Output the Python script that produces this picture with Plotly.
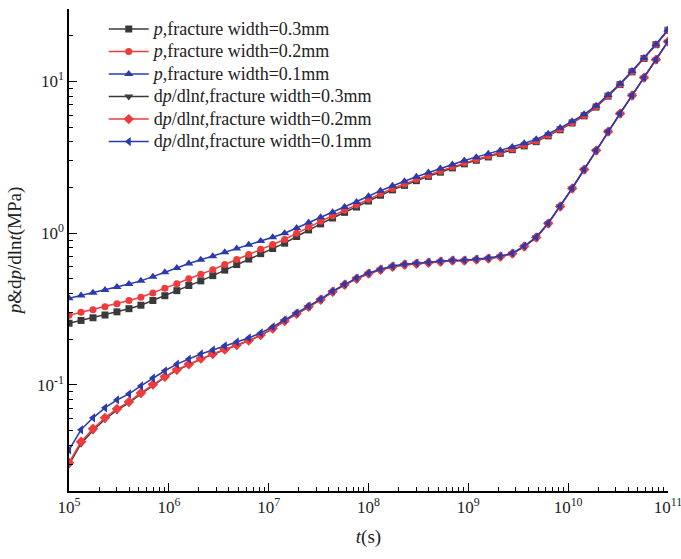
import numpy as np
import plotly.graph_objects as go

# Time grid of the simulation (s), 1e5 .. 1e11 with 51 log-spaced samples
t = np.logspace(5, 11, 51)

# Pressure p (MPa) for the three fracture widths
p_w03 = [0.255, 0.266, 0.277, 0.289, 0.303, 0.318, 0.335, 0.360, 0.387, 0.418,
         0.452, 0.485, 0.525, 0.571, 0.621, 0.675, 0.733, 0.792, 0.859, 0.951,
         1.050, 1.151, 1.259, 1.371, 1.486, 1.629, 1.778, 1.928, 2.065, 2.218,
         2.366, 2.523, 2.692, 2.864, 3.020, 3.177, 3.357, 3.548, 3.758, 4.009,
         4.375, 4.797, 5.321, 5.929, 6.776, 7.998, 9.528, 11.56, 14.16, 17.46,
         21.73]
p_w02 = [0.288, 0.301, 0.313, 0.327, 0.343, 0.360, 0.378, 0.404, 0.433, 0.465,
         0.501, 0.536, 0.575, 0.622, 0.671, 0.724, 0.782, 0.841, 0.908, 0.998,
         1.096, 1.197, 1.303, 1.416, 1.531, 1.675, 1.824, 1.972, 2.109, 2.265,
         2.410, 2.570, 2.735, 2.911, 3.062, 3.221, 3.396, 3.589, 3.802, 4.046,
         4.416, 4.842, 5.358, 5.970, 6.823, 8.035, 9.572, 11.61, 14.19, 17.50,
         21.78]
p_w01 = [0.373, 0.389, 0.405, 0.422, 0.442, 0.462, 0.485, 0.516, 0.552, 0.590,
         0.631, 0.667, 0.705, 0.748, 0.792, 0.839, 0.889, 0.940, 0.998, 1.081,
         1.175, 1.271, 1.374, 1.486, 1.603, 1.750, 1.905, 2.056, 2.198, 2.355,
         2.506, 2.667, 2.838, 3.013, 3.170, 3.334, 3.508, 3.698, 3.908, 4.150,
         4.519, 4.943, 5.458, 6.067, 6.918, 8.128, 9.661, 11.70, 14.29, 17.58,
         21.88]

# Pressure derivative dp/dlnt (MPa) for the three fracture widths
dp_w03 = [0.0298, 0.0410, 0.0501, 0.0594, 0.0682, 0.0761, 0.0873, 0.0995, 0.112, 0.125,
          0.136, 0.148, 0.159, 0.170, 0.182, 0.195, 0.212, 0.234, 0.263, 0.293,
          0.326, 0.363, 0.410, 0.456, 0.500, 0.540, 0.573, 0.600, 0.618, 0.628,
          0.637, 0.647, 0.658, 0.658, 0.668, 0.679, 0.699, 0.732, 0.815, 0.935,
          1.155, 1.498, 1.967, 2.622, 3.497, 4.665, 6.128, 8.064, 10.58, 13.90,
          18.26]
dp_w02 = [0.0307, 0.0422, 0.0514, 0.0607, 0.0695, 0.0773, 0.0885, 0.1007, 0.113, 0.126,
          0.137, 0.149, 0.160, 0.171, 0.183, 0.196, 0.213, 0.235, 0.264, 0.294,
          0.327, 0.364, 0.411, 0.457, 0.501, 0.541, 0.574, 0.601, 0.619, 0.629,
          0.638, 0.648, 0.659, 0.659, 0.669, 0.680, 0.700, 0.733, 0.816, 0.936,
          1.156, 1.499, 1.968, 2.624, 3.499, 4.667, 6.131, 8.067, 10.59, 13.91,
          18.28]
dp_w01 = [0.0373, 0.0506, 0.0607, 0.0706, 0.0796, 0.0873, 0.0984, 0.111, 0.124, 0.137,
          0.148, 0.160, 0.170, 0.181, 0.192, 0.204, 0.220, 0.241, 0.268, 0.298,
          0.331, 0.368, 0.415, 0.461, 0.506, 0.546, 0.579, 0.607, 0.625, 0.635,
          0.644, 0.655, 0.664, 0.664, 0.675, 0.685, 0.706, 0.738, 0.821, 0.942,
          1.164, 1.506, 1.977, 2.636, 3.516, 4.688, 6.152, 8.091, 10.62, 13.96,
          18.32]

# Tick positions and their labels
x_tickvals = [1e5, 1e6, 1e7, 1e8, 1e9, 1e10, 1e11]
x_ticktext = ["10<sup>5</sup>", "10<sup>6</sup>", "10<sup>7</sup>", "10<sup>8</sup>",
              "10<sup>9</sup>", "10<sup>10</sup>", "10<sup>11</sup>"]
y_tickvals = [0.1, 1, 10]
y_ticktext = ["10<sup>-1</sup>", "10<sup>0</sup>", "10<sup>1</sup>"]

BLACK = "#3a3a3a"
RED = "#ef3b3b"
BLUE = "#2b3aad"
SERIF = "Liberation Serif, Times New Roman, serif"


def legend_label(text):
    return f'<span style="font-size:18px">{text}</span>'


series = [
    (p_w03, "<i>p</i>,fracture width=0.3mm", BLACK, "square", 7),
    (p_w02, "<i>p</i>,fracture width=0.2mm", RED, "circle", 7),
    (p_w01, "<i>p</i>,fracture width=0.1mm", BLUE, "triangle-up", 8),
    (dp_w03, "d<i>p</i>/dln<i>t</i>,fracture width=0.3mm", BLACK, "triangle-down", 8),
    (dp_w02, "d<i>p</i>/dln<i>t</i>,fracture width=0.2mm", RED, "diamond", 8),
    (dp_w01, "d<i>p</i>/dln<i>t</i>,fracture width=0.1mm", BLUE, "triangle-left", 8),
]

fig = go.Figure()
for k, (vals, name, color, symbol, size) in enumerate(series):
    fig.add_trace(go.Scatter(
        x=t, y=vals, name=legend_label(name), mode="lines+markers",
        line=dict(color=color, width=1.5),
        marker=dict(symbol=symbol, size=size, color=color, line=dict(width=0)),
    ))

axis_common = dict(
    type="log",
    ticks="inside", ticklen=8, tickwidth=1.2, tickcolor="black",
    showline=True, linecolor="black", linewidth=1.5, mirror=False,
    showgrid=False, zeroline=False, automargin=False,
    ticklabeloverflow="allow",
    tickfont=dict(family=SERIF, size=17, color="#222"),
    minor=dict(ticks="inside", ticklen=4, tickwidth=1, tickcolor="black",
               dtick="D1", showgrid=False),
)

fig.update_xaxes(
    **axis_common,
    range=[4.9995, 11.0005],
    tickmode="array", tickvals=x_tickvals, ticktext=x_ticktext,
    title=dict(text="<i>t</i>(s)", font=dict(family=SERIF, size=19, color="#222"),
               standoff=14),
)
fig.update_yaxes(
    **axis_common,
    range=[np.log10(0.02), np.log10(30)],
    tickmode="array", tickvals=y_tickvals, ticktext=y_ticktext,
    title=dict(text="<i>p</i>&d<i>p</i>/dln<i>t</i>(MPa)",
               font=dict(family=SERIF, size=19, color="#222"), standoff=10),
)

fig.update_layout(
    width=681, height=559,
    margin=dict(l=69, r=13, t=9, b=68),
    paper_bgcolor="white", plot_bgcolor="white",
    showlegend=True,
    legend=dict(
        x=0.058, y=0.992, xanchor="left", yanchor="top",
        font=dict(family=SERIF, size=15, color="#222"),
        bgcolor="rgba(0,0,0,0)", borderwidth=0,
        itemwidth=40,
    ),
)

fig.write_html("out.html")
